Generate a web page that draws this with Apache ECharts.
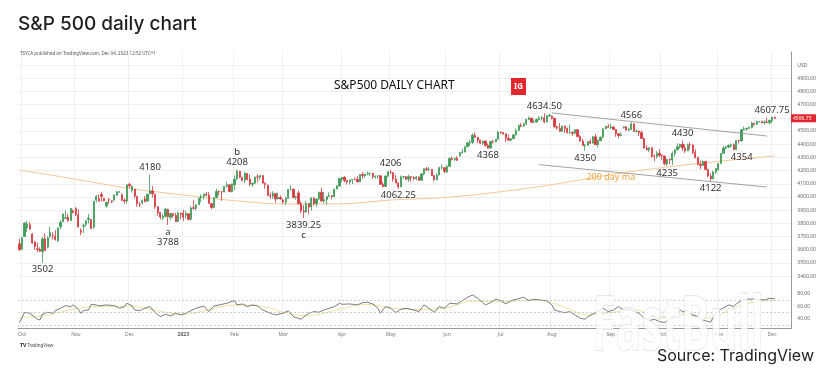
<!DOCTYPE html>
<html><head><meta charset="utf-8">
<script src="https://cdn.jsdelivr.net/npm/echarts@6/dist/echarts.min.js"></script>
<style>html,body{margin:0;padding:0;background:#fff}#c{width:828px;height:379px}</style>
</head><body><div id="c"></div>
<script>
// ---- categories: trading days (month: day list) ----
const tradingDays = [
 "2022-09:30",
 "2022-10:3 4 5 6 7 10 11 12 13 14 17 18 19 20 21 24 25 26 27 28 31",
 "2022-11:1 2 3 4 7 8 9 10 11 14 15 16 17 18 21 22 23 25 28 29 30",
 "2022-12:1 2 5 6 7 8 9 12 13 14 15 16 19 20 21 22 23 27 28 29 30",
 "2023-01:3 4 5 6 9 10 11 12 13 17 18 19 20 23 24 25 26 27 30 31",
 "2023-02:1 2 3 6 7 8 9 10 13 14 15 16 17 21 22 23 24 27 28",
 "2023-03:1 2 3 6 7 8 9 10 13 14 15 16 17 20 21 22 23 24 27 28 29 30 31",
 "2023-04:3 4 5 6 10 11 12 13 14 17 18 19 20 21 24 25 26 27 28",
 "2023-05:1 2 3 4 5 8 9 10 11 12 15 16 17 18 19 22 23 24 25 26 30 31",
 "2023-06:1 2 5 6 7 8 9 12 13 14 15 16 20 21 22 23 26 27 28 29 30",
 "2023-07:3 5 6 7 10 11 12 13 14 17 18 19 20 21 24 25 26 27 28 31",
 "2023-08:1 2 3 4 7 8 9 10 11 14 15 16 17 18 21 22 23 24 25 28 29 30 31",
 "2023-09:1 5 6 7 8 11 12 13 14 15 18 19 20 21 22 25 26 27 28 29",
 "2023-10:2 3 4 5 6 9 10 11 12 13 16 17 18 19 20 23 24 25 26 27 30 31",
 "2023-11:1 2 3 6 7 8 9 10 13 14 15 16 17 20 21 22 24 27 28 29 30",
 "2023-12:1 4"
];
const emptyDays = ["2023-12:5 6 7 8 11 12"]; // right-hand margin of the chart

// ---- S&P 500 daily candles: [open, close, low, high] ----
const ohlc = [
[3645,3598,3596,3683],[3605,3690,3600,3700],[3700,3803,3698,3806],[3766,3795,3734,3818],[3790,3757,3752,3810],
[3719,3652,3645,3725],[3659,3624,3600,3665],[3607,3601,3581,3653],[3602,3589,3583,3618],[3585,3682,3502,3697],
[3685,3595,3594,3725],[3620,3690,3612,3702],[3700,3732,3690,3774],[3710,3707,3678,3731],[3701,3678,3669,3748],
[3669,3765,3659,3769],[3774,3809,3753,3822],[3811,3871,3811,3874],[3837,3843,3836,3898],[3847,3819,3815,3872],
[3821,3913,3820,3917],[3893,3884,3875,3905],[3913,3868,3855,3923],[3865,3772,3770,3906],[3746,3732,3711,3763],
[3779,3783,3729,3798],[3792,3819,3776,3825],[3830,3840,3798,3871],[3829,3761,3757,3830],[3770,3968,3760,3971],
[3976,4005,3959,4014],[3989,3969,3968,4020],[4019,4004,3966,4040],[3989,3971,3966,3995],[3932,3959,3919,3966],
[3979,3977,3947,3991],[3968,3962,3952,3974],[3977,4016,3968,4016],[4012,4039,4011,4046],[4036,4038,4032,4046],
[4017,3976,3968,4025],[3977,3970,3949,3988],[3969,4092,3950,4093],[4095,4085,4066,4109],[4049,4080,4034,4088],
[4060,4007,3992,4060],[4004,3949,3926,4009],[3944,3942,3924,3959],[3955,3972,3944,3982],[3984,3964,3960,4008],
[3969,4021,3965,4023],[4025,4050,4020,4170],[4046,4025,3996,4084],[4020,3926,3909,4025],[3926,3882,3858,3930],
[3883,3848,3830,3884],[3840,3852,3825,3869],[3852,3908,3848,3919],[3905,3852,3788,3910],[3846,3875,3828,3876],
[3873,3859,3843,3876],[3859,3813,3810,3879],[3815,3879,3810,3888],[3878,3870,3830,3880],[3875,3846,3817,3901],
[3862,3875,3837,3895],[3872,3830,3824,3874],[3832,3917,3822,3929],[3918,3914,3905,3973],[3914,3941,3899,3943],
[3942,3992,3940,3994],[3994,4005,3959,4019],[4004,4021,3980,4026],[4021,4013,4006,4037],[4014,3951,3948,4037],
[3950,3921,3907,3955],[3921,3995,3915,3997],[3996,4042,3992,4062],[4042,4039,4012,4050],[4039,4038,3971,4045],
[4038,4082,4035,4083],[4082,4093,4071,4117],[4092,4040,4039,4095],[4040,4099,4036,4101],[4092,4134,4053,4163],
[4136,4195,4130,4208],[4194,4151,4141,4198],[4150,4126,4118,4152],[4126,4179,4104,4191],[4178,4133,4126,4182],
[4134,4097,4084,4172],[4097,4105,4075,4109],[4105,4152,4100,4153],[4152,4151,4110,4174],[4150,4163,4128,4164],
[4162,4105,4102,4165],[4105,4094,4062,4108],[4090,4012,4011,4092],[4012,4006,3988,4033],[4006,4027,3986,4044],
[4025,3985,3959,4026],[3986,3997,3980,4033],[3996,3985,3980,4012],[3978,3961,3949,3985],[3960,3991,3939,4001],
[3990,4056,3986,4058],[4056,4058,4050,4089],[4058,3996,3990,4066],[3997,4002,3980,4010],[4030,3950,3940,4050],
[3950,3894,3878,3967],[3894,3888,3839.25,3938],[3888,3951,3880,3970],[3950,3924,3870,3952],[3924,3992,3896,3997],
[3992,3949,3934,3998],[3949,3984,3925,3988],[3984,4035,3980,4041],[4035,3969,3968,4071],[3969,3981,3951,4039],
[3981,4003,3941,4006],[4003,4010,4000,4035],[4010,4003,3983,4014],[4003,4060,4000,4063],[4060,4083,4058,4090],
[4083,4141,4080,4142],[4135,4149,4112,4152],[4150,4125,4111,4157],[4125,4114,4096,4128],[4114,4129,4093,4131],
[4129,4133,4097,4136],[4135,4133,4126,4148],[4133,4116,4110,4158],[4116,4170,4112,4174],[4170,4162,4138,4188],
[4162,4175,4148,4176],[4175,4179,4164,4193],[4178,4180,4159,4186],[4180,4154,4138,4182],[4154,4158,4138,4163],
[4158,4161,4139,4166],[4161,4096,4095,4164],[4096,4080,4073,4113],[4080,4159,4078,4163],[4159,4193,4147,4194],
[4186,4184,4175,4206],[4184,4136,4116,4188],[4136,4107,4104,4165],[4107,4077,4062.25,4110],[4077,4152,4075,4163],
[4152,4154,4140,4159],[4154,4135,4132,4156],[4135,4154,4115,4170],[4154,4147,4115,4156],[4147,4140,4124,4159],
[4140,4152,4126,4158],[4152,4126,4125,4154],[4126,4175,4124,4180],[4175,4214,4165,4215],[4214,4208,4196,4228],
[4208,4209,4196,4226],[4209,4162,4160,4212],[4162,4131,4119,4164],[4131,4167,4128,4182],[4167,4221,4165,4229],
[4221,4222,4208,4247],[4222,4196,4182,4224],[4190,4231,4182,4242],[4231,4292,4229,4300],[4292,4284,4276,4309],
[4284,4294,4272,4299],[4294,4278,4274,4310],[4310,4336,4305,4341],[4336,4341,4330,4364],[4341,4381,4338,4382],
[4381,4411,4379,4417],[4411,4415,4387,4433],[4415,4468,4401,4481],[4468,4452,4449,4490],[4452,4431,4409,4455],
[4431,4408,4402,4433],[4408,4424,4395,4426],[4424,4390,4383,4426],[4390,4371,4368,4405],[4371,4420,4368,4426],
[4420,4419,4405,4433],[4419,4438,4414,4440],[4438,4492,4436,4501],[4492,4488,4478,4496],[4488,4479,4469,4490],
[4479,4444,4417,4480],[4444,4431,4428,4473],[4431,4442,4422,4444],[4442,4471,4440,4473],[4471,4504,4468,4520],
[4504,4542,4502,4549],[4542,4537,4529,4560],[4537,4555,4532,4564],[4555,4587,4546,4595],[4587,4598,4585,4611],
[4598,4567,4559,4600],[4567,4568,4560,4588],[4568,4587,4565,4596],[4587,4599,4580,4612],[4598,4600,4580,4614],
[4600,4569,4560,4634.5],[4569,4614,4566,4622],[4614,4621,4608,4627],[4612,4597,4587,4615],[4597,4533,4525,4598],
[4533,4522,4510,4539],[4522,4498,4494,4560],[4498,4538,4496,4540],[4538,4519,4485,4540],[4519,4488,4481,4526],
[4488,4490,4477,4548],[4490,4484,4463,4496],[4484,4510,4474,4512],[4510,4458,4452,4512],[4458,4424,4422,4470],
[4424,4390,4385,4441],[4389,4391,4350,4402],[4391,4420,4387,4421],[4420,4408,4401,4439],[4408,4456,4406,4463],
[4456,4396,4395,4479],[4396,4426,4377,4438],[4426,4453,4424,4459],[4453,4518,4450,4520],[4518,4535,4514,4541],
[4535,4528,4525,4552],[4523,4531,4516,4556],[4531,4512,4507,4534],[4512,4480,4457,4514],[4480,4466,4445,4482],
[4466,4472,4460,4489],[4526,4532,4518,4536],[4532,4507,4502,4536],[4507,4512,4498,4524],[4512,4555,4508,4566],
[4555,4498,4495,4558],[4498,4500,4489,4513],[4500,4488,4460,4502],[4488,4444,4442,4504],[4444,4370,4369,4448],
[4370,4358,4354,4395],[4358,4373,4339,4376],[4373,4308,4299,4375],[4308,4307,4270,4324],[4307,4330,4291,4347],
[4330,4316,4303,4362],[4316,4310,4282,4322],[4310,4251,4240,4312],[4251,4286,4235,4290],[4286,4280,4247,4292],
[4280,4331,4242,4346],[4331,4358,4306,4363],[4358,4380,4352,4407],[4380,4399,4367,4404],[4399,4372,4347,4428],
[4372,4350,4333,4400],[4350,4396,4348,4405],[4396,4394,4360,4415],[4394,4337,4327,4398],[4337,4300,4291,4361],
[4300,4246,4245,4305],[4246,4239,4211,4277],[4239,4270,4236,4277],[4270,4209,4204,4272],[4209,4159,4149,4212],
[4159,4139,4122,4178],[4139,4189,4134,4200],[4189,4216,4175,4217],[4207,4251,4200,4258],[4255,4331,4250,4332],
[4331,4371,4328,4387],[4371,4379,4360,4385],[4379,4391,4369,4399],[4391,4396,4373,4405],[4396,4360,4354,4406],
[4360,4428,4358,4431],[4428,4425,4407,4434],[4425,4509,4420,4516],[4509,4516,4505,4534],[4516,4521,4501,4524],
[4521,4527,4513,4534],[4527,4560,4520,4570],[4560,4551,4539,4562],[4551,4570,4548,4581],[4570,4572,4565,4575],
[4572,4563,4559,4576],[4563,4568,4550,4582],[4568,4564,4560,4601],[4564,4581,4550,4584],[4578,4605,4560,4607.75],
[4604,4596.75,4592,4607]
];
const lastPrice = 4596.75;

// ---- 200-day moving average, read at trading-day indices ----
const maDay = [0, 11, 22, 43, 64, 84, 103, 126, 145, 167, 188, 208, 231, 251, 273, 295];
const maVal = [4204, 4170, 4134, 4065, 4015, 3972, 3947, 3948, 3977, 3997, 4040, 4093, 4170, 4222, 4270, 4311];

// ---- RSI (14) readings ----
const rsiDay = [0,2,4,7,8,9,11,13,14,16,18,20,21,23,24,25,27,28,30,31,34,37,39,41,42,44,45,47,49,51,53,55,57,59,61,63,65,67,69,72,74,76,78,81,84,85,87,89,91,93,95,98,100,103,105,107,110,112,113,115,117,119,123,125,126,129,132,134,136,138,140,141,143,145,147,149,151,154,156,158,160,162,164,166,168,171,173,175,177,179,181,182,184,186,188,190,192,194,197,199,201,203,206,208,209,211,213,215,217,219,221,222,224,226,228,230,232,234,236,238,240,242,244,246,248,250,252,254,256,258,259,261,263,265,267,269,270,271,272,274,276,277,279,280,282,284,286,288,291,293,295];
const rsiVal = [34,50,48.8,39.2,38.1,47.2,50.4,48.8,53,56.8,61,59.4,62.1,55.2,48.8,53,54.1,63.2,62.1,60.5,62.1,61,56.8,59.4,64.8,60.5,54.1,53,56.8,59.4,49.8,43.4,47.2,44.5,48.8,46.1,48.8,53,56.8,60.5,51.4,60.5,62.1,64.8,69,62.1,63.7,59.4,62.1,60.5,54.1,48.8,46.1,48.8,53,43.4,39.2,46.1,48.8,51.4,50.4,54.1,59.4,64.8,63.2,63.7,62.1,65.8,66.4,63.7,56.8,48.8,59.4,56.8,49.8,55.2,56.8,54.1,51.4,62.1,56.8,50.4,59.4,56.8,64.8,63.7,69,74.4,78.1,72.8,65.8,62.1,65.8,71.2,69,63.7,69,71.2,74.4,69,71.2,70.1,69,62.1,54.1,51.4,49.8,51.4,46.1,40.8,39.2,43.4,47.7,51.4,56.8,51.4,54.1,59.4,54.1,55.2,51.4,48.8,40.8,37,39.2,35.4,33.8,39.2,46.1,54.1,51.4,53,46.1,43.4,38,35.4,34.5,42.4,48.8,55.2,59.4,62.1,59.4,63.7,69,71.2,71.7,71.2,70.1,72.8,72];
const sigDay = [0,11,22,33,43,55,64,75,84,95,103,112,125,136,145,156,167,177,188,200,208,215,222,231,240,251,261,270,277,285,295];
const sigVal = [42,46,56,60,60,52,47,56,62,60,50,45,55,63,57,55,58,68,67,70,66,55,46,50,54,42,47,41,53,65,70];

// ---- annotations: [trading-day index, price, text, side] ----
const notes = [
 [9, 3502, "3502", "bottom"],
 [51, 4170, "4180", "top"],
 [58, 3788, "a\n3788", "bottom"],
 [85, 4208, "b\n4208", "top"],
 [111, 3839.25, "3839.25\nc", "bottom"],
 [145, 4206, "4206", "top"],
 [148, 4062.25, "4062.25", "bottom"],
 [183, 4368, "4368", "bottom"],
 [205, 4634.5, "4634.50", "top"],
 [221, 4350, "4350", "bottom"],
 [239, 4566, "4566", "top"],
 [253, 4235, "4235", "bottom"],
 [259, 4428, "4430", "top"],
 [270, 4122, "4122", "bottom"],
 [279, 4354, "4354", "bottom"],
 [294, 4607.75, "4607.75", "top"]
];
// trend channel: [[day, price],[day, price]]
const channelUpper = [[208, 4637], [292, 4462]];
const channelLower = [[203, 4245], [292, 4075]];
const maLabel = [231, 4151, "200 day ma"];

const monthNames = {"01":"2023","02":"Feb","03":"Mar","04":"Apr","05":"May","06":"Jun","07":"Jul","08":"Aug","09":"Sep","10":"Oct","11":"Nov","12":"Dec"};

// build categories
const categories = [];
tradingDays.concat(emptyDays).forEach(s => {
  const [ym, days] = s.split(":");
  days.trim().split(/\s+/).forEach(d => categories.push(ym + "-" + (d.length < 2 ? "0" + d : d)));
});
const nData = ohlc.length;
const monthStart = new Set();
for (let i = 1; i < nData; i++) {
  if (categories[i].slice(0, 7) !== categories[i - 1].slice(0, 7)) monthStart.add(i);
}
const isMonthStart = (idx) => monthStart.has(idx);

const maData = maDay.map((d, k) => [categories[d], maVal[k]]);
const rsiData = rsiDay.map((d, k) => [categories[d], rsiVal[k]]);
const sigData = sigDay.map((d, k) => [categories[d], sigVal[k]]);

const noteFont = 'Noto Sans';
const markData = notes.map(n => ({
  coord: [categories[n[0]], n[1]],
  symbol: 'circle', symbolSize: 0,
  label: {
    show: true, position: n[3], distance: 2,
    formatter: n[2], color: '#333', fontSize: 9.5, lineHeight: 10,
    fontFamily: noteFont, offset: n[2] === "4354" ? [8, 0] : [0, 0]
  }
}));
markData.push({
  coord: [categories[maLabel[0]], maLabel[1]],
  symbol: 'circle', symbolSize: 0,
  label: { show: true, position: 'inside', formatter: maLabel[2], color: '#f0a43a', fontSize: 9, fontFamily: noteFont }
});

const gridLineColors = [];
for (let v = 3300; v <= 5100; v += 100) gridLineColors.push((v === 3300 || v === 5100) ? 'rgba(0,0,0,0)' : '#efefef');

const up = '#3c9a56', down = '#d7373c';

const chart = echarts.init(document.getElementById('c'), null, { renderer: 'canvas' });
const option = {
  animation: false,
  backgroundColor: '#fff',
  grid: [
    { left: 18.2, right: 36.7, top: 51.9, bottom: 89.7 },
    { left: 18.2, right: 36.7, top: 284.4, bottom: 50.9 }
  ],
  xAxis: [
    { type: 'category', gridIndex: 0, data: categories, boundaryGap: true,
      axisLine: { show: false }, axisTick: { show: false }, axisLabel: { show: false },
      splitLine: { show: true, interval: (i) => isMonthStart(i), lineStyle: { color: '#efefef', width: 1 } } },
    { type: 'category', gridIndex: 1, data: categories, boundaryGap: true,
      axisLine: { show: true, lineStyle: { color: '#9a9a9a', width: 1 } }, axisTick: { show: false },
      axisLabel: { show: true, interval: (i) => isMonthStart(i), margin: 4, fontSize: 5, color: '#777', fontFamily: 'Noto Sans',
        formatter: (v) => { const m = v.slice(5, 7); return m === '01' ? '{y|' + v.slice(0, 4) + '}' : monthNames[m]; },
        rich: { y: { fontSize: 5, fontWeight: 'bold', color: '#555', fontFamily: 'Noto Sans' } } },
      splitLine: { show: true, interval: (i) => isMonthStart(i), lineStyle: { color: '#efefef', width: 1 } } }
  ],
  yAxis: [
    { type: 'value', gridIndex: 0, position: 'right', min: 3300, max: 5100, interval: 100,
      axisLine: { show: true, lineStyle: { color: '#9a9a9a', width: 1 } }, axisTick: { show: false },
      axisLabel: { margin: 6, fontSize: 5, color: '#666', fontFamily: 'Noto Sans',
        formatter: (v) => v === 5000 ? 'USD' : ((v === 3300 || v === 5100) ? '' : v.toFixed(2)) },
      splitLine: { show: true, lineStyle: { color: gridLineColors, width: 1 } } },
    { type: 'value', gridIndex: 1, position: 'right', min: 25, max: 95, interval: 5,
      axisLine: { show: true, lineStyle: { color: '#9a9a9a', width: 1 } }, axisTick: { show: false },
      axisLabel: { margin: 6, fontSize: 5, color: '#666', fontFamily: 'Noto Sans',
        formatter: (v) => (v === 40 || v === 60 || v === 80) ? v.toFixed(2) : '' },
      splitLine: { show: false } }
  ],
  series: [
    { name: '200 day ma', type: 'line', xAxisIndex: 0, yAxisIndex: 0, data: maData, smooth: 0.3,
      symbol: 'none', lineStyle: { color: '#f6c79a', width: 1 }, z: 1, silent: true },
    { name: 'S&P500', type: 'candlestick', xAxisIndex: 0, yAxisIndex: 0, data: ohlc, barWidth: '68%', z: 3,
      itemStyle: { color: up, color0: down, borderColor: up, borderColor0: down, borderWidth: 0.8 },
      markPoint: { silent: true, data: markData, animation: false },
      markLine: { silent: true, symbol: ['none', 'none'], label: { show: false },
        lineStyle: { color: '#8c8c8c', width: 0.8, type: 'solid' },
        data: [
          [ { coord: [categories[channelUpper[0][0]], channelUpper[0][1]] }, { coord: [categories[channelUpper[1][0]], channelUpper[1][1]] } ],
          [ { coord: [categories[channelLower[0][0]], channelLower[0][1]] }, { coord: [categories[channelLower[1][0]], channelLower[1][1]] } ]
        ] } },
    { name: 'RSI MA', type: 'line', xAxisIndex: 1, yAxisIndex: 1, data: sigData, smooth: 0.4,
      symbol: 'none', lineStyle: { color: '#efe2a6', width: 1 }, z: 2, silent: true },
    { name: 'RSI', type: 'line', xAxisIndex: 1, yAxisIndex: 1, data: rsiData,
      symbol: 'none', lineStyle: { color: '#5b5b5b', width: 0.8 }, z: 3, silent: true,
      markLine: { silent: true, symbol: ['none', 'none'], label: { show: false },
        lineStyle: { color: '#b5b5b5', width: 0.7, type: [2, 2] },
        data: [ { yAxis: 70 }, { yAxis: 50 }, { yAxis: 30 } ] } }
  ]
};
chart.setOption(option);

const yLast = chart.convertToPixel({ yAxisIndex: 0 }, lastPrice);
chart.setOption({
  graphic: [
    { type: 'text', left: 18, top: 15, style: { text: 'S&P 500 daily chart', font: '500 19px Inter', fill: '#1f1f1f' } },
    { type: 'text', left: 20, top: 51, style: { text: 'TSYCA published on TradingView.com, Dec 04, 2023 12:52 UTC+1', font: '4.5px "Noto Sans"', fill: '#555' } },
    { type: 'text', left: 334, top: 79.5, style: { text: 'S&P500 DAILY CHART', font: '12px "Noto Sans"', fill: '#111' } },
    { type: 'rect', shape: { x: 511, y: 78, width: 15, height: 17 }, style: { fill: '#e3262b' } },
    { type: 'text', x: 518.5, y: 86.5, style: { text: 'IG', font: 'bold 8px "Noto Sans"', fill: '#fff', align: 'center', verticalAlign: 'middle' } },
    { type: 'rect', shape: { x: 791, y: yLast - 4, width: 25, height: 8 }, style: { fill: '#e3262b' }, z: 100 },
    { type: 'text', x: 793, y: yLast, style: { text: lastPrice.toFixed(2), font: '5px "Noto Sans"', fill: '#fff', verticalAlign: 'middle' }, z: 101 },
    { type: 'text', left: 20, top: 343, style: { text: '{b|TV} TradingView', rich: { b: { font: 'bold 5px "Noto Sans"', fill: '#222' } }, font: '4.5px "Noto Sans"', fill: '#444' } },
    { type: 'text', x: 678, y: 328, scaleX: 0.56, style: { text: 'FastBull', font: 'bold 76px "Open Sans"', fill: 'rgba(255,255,255,0.8)', stroke: 'rgba(190,190,190,0.45)', lineWidth: 1.5, shadowColor: 'rgba(0,0,0,0.18)', shadowBlur: 5, align: 'center', verticalAlign: 'middle' }, z: 90 },
    { type: 'text', right: 14, top: 348, style: { text: 'Source: TradingView', font: '16px Inter', fill: '#222' }, z: 95 }
  ]
});
</script>
</body></html>
